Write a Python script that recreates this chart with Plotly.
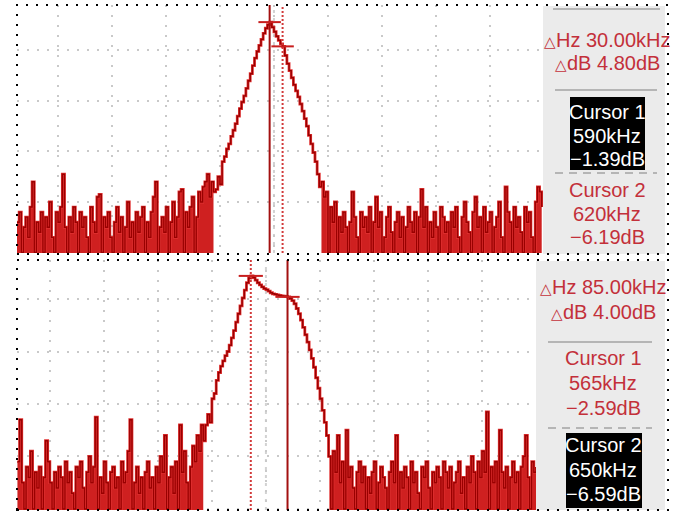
import plotly.graph_objects as go

W, H = 681, 512

# ---------------- data ----------------
# Top screen: frequency bins (kHz) and level (dB)
top_freq = list(range(5, 1225, 5))
top_noise_left = [
    -41, -39, -47, -42, -40, -44, -38, -33, -47, -41,
    -43, -39, -47, -40, -42, -37, -44, -47, -39, -41,
    -38, -31.5, -42, -47, -40, -43, -38, -41, -47, -39,
    -42, -40, -44, -47, -38, -41, -43, -36, -35.5, -47,
    -40, -42, -39, -44, -47, -41, -38, -43, -40, -47,
    -42, -37, -44, -41, -47, -39, -43, -40, -38, -47,
    -41, -44, -39, -36, -33, -47, -42, -40, -43, -38,
    -47, -41, -37, -44, -40, -35, -34.5, -47, -39, -42,
    -38, -36, -47, -40, -35, -37, -34, -33, -31.5, -36,
    -33, -35]
top_peak = [
    -34.5, -32, -33.5, -29, -28, -26.5, -25.5, -24, -22.8, -21.5,
    -20, -18.5, -17.2, -16, -14.5, -13, -11.6, -10, -8.5, -7.2,
    -6, -4.8, -3.6, -2.6, -1.9, -1.39, -2.4, -3.3, -4.2, -5.0,
    -5.7, -6.19, -8, -9.6, -11, -12.4, -13.8, -15, -16.2, -17.6,
    -19, -20.5, -22, -23.8, -25.5, -27.2, -29, -31.5, -34]
top_noise_right = [
    -33, -36, -35, -47, -38, -41, -37, -47, -40, -43,
    -39, -42, -47, -41, -35, -40, -44, -47, -39, -42,
    -40, -43, -38, -47, -41, -36, -42, -39, -47, -44,
    -40, -38, -43, -47, -41, -39, -44, -40, -47, -42,
    -38, -41, -43, -39, -47, -40, -34.5, -42, -38, -47,
    -41, -44, -39, -42, -47, -38, -40, -43, -41, -47,
    -39, -42, -38, -44, -47, -40, -37, -41, -43, -47,
    -39, -36, -42, -40, -47, -38, -43, -41, -39, -47,
    -42, -40, -37, -44, -47, -34, -39, -41, -47, -38,
    -42, -40, -43, -47, -38, -41, -39, -44, -47, -37,
    -34, -35, -38]
top_db = top_noise_left + top_peak + top_noise_right

# Bottom screen
bot_freq = list(range(25, 1230, 5))
bot_noise_left = [
    -38, -30, -42, -47, -39, -41, -36, -47, -40, -43,
    -39, -47, -41, -34, -38, -42, -47, -40, -43, -39,
    -41, -47, -38, -42, -40, -44, -47, -39, -41, -38,
    -43, -47, -40, -37, -42, -39, -29.5, -47, -41, -44,
    -38, -42, -47, -40, -39, -43, -41, -47, -38, -42,
    -40, -36, -30, -47, -42, -39, -44, -41, -47, -40,
    -38, -43, -41, -47, -39, -42, -37, -40, -33, -47,
    -41, -39, -44, -38, -47, -31, -40, -36, -42, -47,
    -39, -35, -38, -33, -36, -31, -34]
bot_peak = [
    -31, -29, -30.5, -26, -25, -22.5, -21, -19.8, -18.8, -17.8,
    -17, -15.8, -14.4, -13, -11.4, -9.8, -8.3, -6.8, -5.3, -3.9,
    -3.0, -2.59, -2.9, -3.4, -3.9, -4.3, -4.7, -5.0, -5.2, -5.5,
    -5.8, -6.0, -6.1, -6.2, -6.3, -6.4, -6.45, -6.5, -6.59, -6.9,
    -7.3, -7.9, -8.8, -9.8, -11, -12.4, -13.8, -15.2, -16.7, -18.3,
    -20, -22, -24, -26, -28.2, -30.5, -33, -37]
bot_noise_right = [
    -47, -36, -40, -33, -42, -38, -47, -32, -41, -39,
    -43, -47, -40, -38, -42, -39, -47, -41, -44, -40,
    -38, -47, -42, -39, -41, -43, -47, -40, -38, -42,
    -33, -47, -40, -43, -39, -41, -47, -38, -42, -40,
    -44, -47, -39, -41, -38, -43, -47, -40, -42, -39,
    -41, -47, -38, -40, -43, -39, -47, -42, -40, -38,
    -44, -41, -47, -39, -42, -37, -40, -47, -38, -41,
    -36, -40, -28.5, -47, -39, -42, -38, -47, -32, -40,
    -43, -39, -47, -41, -38, -42, -40, -47, -39, -37,
    -33, -41, -47, -38, -40, -39]
bot_db = bot_noise_left + bot_peak + bot_noise_right

# Cursor readouts
top_cursor_khz = [590, 620]
top_cursor_db = [-1.39, -6.19]
bot_cursor_khz = [565, 650]
bot_cursor_db = [-2.59, -6.59]
TRI = '<span style="font-size:15px">△</span>'
top_delta = [TRI + "Hz 30.00kHz", TRI + "dB 4.80dB"]
bot_delta = [TRI + "Hz 85.00kHz", TRI + "dB 4.00dB"]
top_cursor_txt = [["Cursor 1", "590kHz", "−1.39dB"], ["Cursor 2", "620kHz", "−6.19dB"]]
bot_cursor_txt = [["Cursor 1", "565kHz", "−2.59dB"], ["Cursor 2", "650kHz", "−6.59dB"]]

# ---------------- styling ----------------
RED_DARK = "#9a0000"
RED_EDGE = "#e23232"
RED_FILL = "#cf2020"
TXT_RED = "#c3303a"
GRID = "#c9c9c9"
FONT = "Liberation Sans, Arial, sans-serif"


def px(x):
    return x / W


def py(y):
    return 1 - y / H


fig = go.Figure()

panels = [
    ("x", "y", top_freq, top_db, [top_noise_left, top_noise_right], -47.1),
    ("x2", "y2", bot_freq, bot_db, [bot_noise_left, bot_noise_right], -47.2),
]
for xa, ya, fx, fy, segs, floor in panels:
    n_left = len(segs[0])
    n_right = len(segs[1])
    for xs, ys in [(fx[:n_left], segs[0]), (fx[len(fx) - n_right:], segs[1])]:
        fig.add_trace(go.Scatter(x=xs, y=[floor - 1] * len(xs), xaxis=xa, yaxis=ya, mode="lines",
                                 line=dict(width=0, shape="hv"), hoverinfo="skip", showlegend=False))
        fig.add_trace(go.Scatter(x=xs, y=ys, xaxis=xa, yaxis=ya, mode="lines", fill="tonexty",
                                 fillcolor=RED_FILL, line=dict(width=0, shape="hv"),
                                 hoverinfo="skip", showlegend=False))
    fig.add_trace(go.Scatter(x=fx, y=fy, xaxis=xa, yaxis=ya, mode="lines",
                             line=dict(color=RED_EDGE, width=2.8, shape="hv"),
                             hoverinfo="skip", showlegend=False))
    fig.add_trace(go.Scatter(x=fx, y=fy, xaxis=xa, yaxis=ya, mode="lines",
                             line=dict(color=RED_DARK, width=1.4, shape="hv"),
                             hoverinfo="skip", showlegend=False))

axis_common = dict(showticklabels=False, ticks="", zeroline=False, showline=False,
                   showgrid=True, gridcolor=GRID, gridwidth=2, griddash="2px,8px",
                   fixedrange=True)

fig.update_layout(
    width=W, height=H, margin=dict(l=0, r=0, t=0, b=0),
    paper_bgcolor="white", plot_bgcolor="white",
    xaxis=dict(domain=[px(17), px(543)], range=[5, 1223], tick0=600, dtick=125, anchor="y", **axis_common),
    yaxis=dict(domain=[py(253), py(5)], range=[-47.1, 2.0], tick0=-7, dtick=10, anchor="x", **axis_common),
    xaxis2=dict(domain=[px(17), px(536)], range=[24, 1225], tick0=600, dtick=125, anchor="y2", **axis_common),
    yaxis2=dict(domain=[py(510), py(260)], range=[-47.2, 0.44], tick0=-7, dtick=10, anchor="x2", **axis_common),
    showlegend=False,
)

shapes = []
anns = []

# center graticule lines with minor marks
for xr, yr in [("x", "y domain"), ("x2", "y2 domain")]:
    shapes.append(dict(type="line", xref=xr, yref=yr, x0=600, x1=600, y0=0, y1=1,
                       line=dict(color="#d2d2d2", width=2, dash="3px,5px"), layer="below"))


# cursors
def add_cursors(xr, yr, kh, db, active, half):
    for i in range(2):
        solid = (i == active)
        shapes.append(dict(type="line", xref=xr, yref=yr + " domain", x0=kh[i], x1=kh[i], y0=0, y1=1,
                           line=dict(color="#a31010" if solid else "#d23a3a", width=2,
                                     dash="solid" if solid else "2px,2px")))
        shapes.append(dict(type="line", xref=xr, yref=yr, x0=kh[i] - half, x1=kh[i] + half,
                           y0=db[i], y1=db[i], line=dict(color="#c81e1e", width=2)))


add_cursors("x", "y", top_cursor_khz, top_cursor_db, 0, 26)
add_cursors("x2", "y2", bot_cursor_khz, bot_cursor_db, 1, 28)

# info panels
shapes.append(dict(type="rect", xref="paper", yref="paper", x0=px(543), x1=px(665), y0=py(254), y1=py(6),
                   fillcolor="#ebebeb", line=dict(width=0), layer="below"))
shapes.append(dict(type="rect", xref="paper", yref="paper", x0=px(536), x1=px(665), y0=py(510), y1=py(261),
                   fillcolor="#ebebeb", line=dict(width=0), layer="below"))

# separators
for y0, x0, x1, dash in [(9, 553, 660, "solid"), (90, 555, 657, "solid"), (173, 555, 657, "8px,6px"),
                         (342, 548, 652, "solid"), (428, 548, 652, "8px,6px")]:
    shapes.append(dict(type="line", xref="paper", yref="paper", x0=px(x0), x1=px(x1), y0=py(y0), y1=py(y0),
                       line=dict(color="#b5b5b5", width=2, dash=dash)))

# black boxes for active cursor
shapes.append(dict(type="rect", xref="paper", yref="paper", x0=px(570), x1=px(645), y0=py(170), y1=py(97),
                   fillcolor="black", line=dict(width=0)))
shapes.append(dict(type="rect", xref="paper", yref="paper", x0=px(566), x1=px(642), y0=py(508), y1=py(433),
                   fillcolor="black", line=dict(width=0)))

# dotted panel borders
for y0, y1 in [(5, 254), (260, 510)]:
    shapes.append(dict(type="rect", xref="paper", yref="paper", x0=px(17), x1=px(668), y0=py(y1), y1=py(y0),
                       line=dict(color="black", width=2, dash="2px,8px"), fillcolor="rgba(0,0,0,0)"))


def txt(x, y, s, color, size=20):
    anns.append(dict(x=px(x), y=py(y), xref="paper", yref="paper", text=s, showarrow=False,
                     xanchor="center", yanchor="middle",
                     font=dict(family=FONT, size=size, color=color)))


# top panel text
txt(607, 40, top_delta[0], TXT_RED)
txt(607, 63, top_delta[1], TXT_RED)
for j, yy in enumerate([112, 136, 159]):
    txt(607, yy, top_cursor_txt[0][j], "white")
for j, yy in enumerate([190, 214, 237]):
    txt(607, yy, top_cursor_txt[1][j], TXT_RED)

# bottom panel text
txt(603, 287, bot_delta[0], TXT_RED)
txt(603, 312, bot_delta[1], TXT_RED)
for j, yy in enumerate([358, 383, 408]):
    txt(603, yy, bot_cursor_txt[0][j], TXT_RED)
for j, yy in enumerate([445, 470, 494]):
    txt(603, yy, bot_cursor_txt[1][j], "white")

fig.update_layout(shapes=shapes, annotations=anns)
fig.write_html("out.html")
